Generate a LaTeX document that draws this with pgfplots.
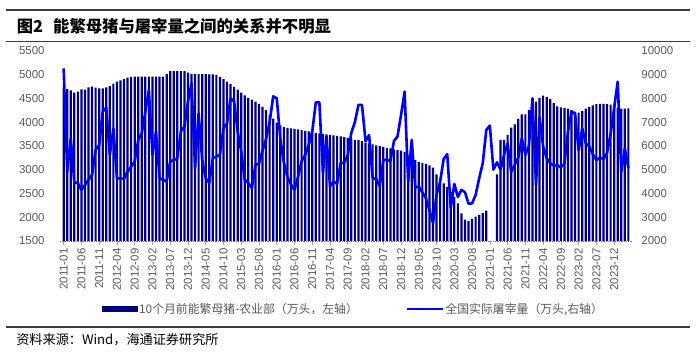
\documentclass[border=0pt]{standalone}
\usepackage{fontspec}
\setmainfont{Liberation Sans}
\newfontfamily\cjk{Noto Sans CJK SC}
\usepackage{pgfplots}
\usepackage{pgfplotstable}
\pgfplotsset{compat=1.18}
\definecolor{barnavy}{RGB}{0,0,128}
\definecolor{lineblue}{RGB}{0,0,255}
\definecolor{txtgray}{RGB}{89,89,89}
\definecolor{rulegray}{RGB}{60,60,60}

\pgfplotstableread{
i v
0 4731
1 4695
2 4668
3 4618
4 4640
5 4689
6 4682
7 4731
8 4745
9 4724
10 4710
11 4710
12 4731
13 4758
14 4807
15 4849
16 4878
17 4905
18 4933
19 4950
20 4954
21 4954
22 4956
23 4956
24 4956
25 4956
26 4956
27 4956
28 4956
29 5010
30 5073
31 5073
32 5073
33 5073
34 5073
35 5040
36 5015
37 5010
38 5010
39 5010
40 5010
41 5005
42 5000
43 4990
44 4950
45 4900
46 4850
47 4800
48 4740
49 4680
50 4620
51 4560
52 4510
53 4470
54 4430
55 4380
56 4320
57 4250
58 4150
59 4070
60 3990
61 3930
62 3895
63 3880
64 3870
65 3858
66 3845
67 3832
68 3815
69 3802
70 3780
71 3765
72 3760
73 3752
74 3742
75 3732
76 3722
77 3712
78 3700
79 3685
80 3670
81 3650
82 3628
83 3620
84 3600
85 3570
86 3554
87 3530
88 3510
89 3495
90 3480
91 3460
92 3445
93 3425
94 3410
95 3400
96 3370
97 3300
98 3240
99 3200
100 3165
101 3140
102 3120
103 3090
104 3040
105 2900
106 2800
107 2710
108 2640
109 2530
110 2420
111 2290
112 2080
113 1950
114 1925
115 1965
116 2013
117 2048
118 2084
119 2140
122 2900
123 3624
124 3624
125 3730
126 3883
127 3954
128 4065
129 4164
130 4164
131 4254
132 4324
133 4430
134 4510
135 4555
136 4530
137 4480
138 4400
139 4330
140 4310
141 4300
142 4280
143 4250
144 4220
145 4200
146 4230
147 4280
148 4320
149 4350
150 4375
151 4385
152 4385
153 4375
154 4365
155 4360
156 4300
157 4280
158 4285
159 4290
}\sows

\pgfplotstableread{
i v
0 9260
1 4916
2 6319
3 4454
4 4440
5 4147
6 4357
7 4570
8 4780
9 5830
10 6040
11 7437
12 7605
13 5620
14 6740
15 4640
16 4620
17 4620
18 4916
19 5126
20 5336
21 6250
22 6530
23 7437
24 8350
25 5620
26 6600
27 4640
28 4570
29 4500
30 5350
31 5400
32 5480
33 6600
34 6810
35 7860
36 8630
37 5060
38 7370
39 5400
40 4640
41 4440
42 5480
43 5550
44 5620
45 6740
46 6950
47 8000
48 7860
49 6600
50 5760
51 4570
52 4440
53 4220
54 5200
55 5250
56 5800
57 6300
58 7000
59 8080
60 8000
61 6300
62 5300
63 4700
64 4380
65 4150
66 4700
67 5350
68 5620
69 6040
70 6600
71 7830
72 7830
73 4850
74 6400
75 4290
76 4500
77 4400
78 5270
79 5300
80 5600
81 6550
82 7000
83 7720
84 7720
85 6200
86 6450
87 4640
88 4620
89 4300
90 5400
91 5420
92 5350
93 6200
94 6400
95 7300
96 8280
97 4500
98 6250
99 4250
100 4290
101 4050
102 3800
103 3300
104 2750
105 3940
106 4500
107 5450
108 5650
109 3400
110 4400
111 3850
112 4150
113 4050
114 3570
115 3580
116 3940
117 4640
118 5270
119 6670
120 6850
121 5000
122 5310
123 5000
124 5620
125 6110
126 4900
127 5200
128 5500
129 6320
130 5620
131 6000
132 8000
133 4360
134 7200
135 5970
136 5480
137 5270
138 5170
139 5180
140 5100
141 5250
142 6600
143 7440
144 7350
145 5800
146 6740
147 6110
148 5970
149 5650
150 5400
151 5500
152 5450
153 5700
154 6500
155 7600
156 8700
157 4900
158 5900
159 5060
}\slaughter

\begin{document}
\begin{tikzpicture}[x=1bp,y=1bp]
\useasboundingbox (-60.1,-112) rectangle (639.9,241);
% rules and title
\draw[rulegray, line width=1.2bp] (-54,231) -- (630,231);
\draw[rulegray, line width=1.2bp] (-54,199.5) -- (630,199.5);
\draw[rulegray, line width=1.4bp] (-54,-86) -- (630,-86);
\node[anchor=west, inner sep=0pt, font=\cjk\bfseries\fontsize{16.4}{18}\selectfont] at (-43.4,214.5) {图2\hspace{10bp}能繁母猪与屠宰量之间的关系并不明显};
\node[anchor=west, inner sep=0pt, font=\cjk\fontsize{13.2}{15}\selectfont] at (-44,-99) {资料来源：Wind，海通证券研究所};

\begin{axis}[
  at={(0,0)}, anchor=south west,
  scale only axis, width=571.8bp, height=190.3bp,
  xmin=-1, xmax=160, ymin=1500, ymax=5500,
  axis x line*=bottom, axis y line*=left,
  x axis line style={densely dotted, color=barnavy!55, line width=0.8bp},
  y axis line style={draw=none},
  ytick={1500,2000,...,5500},
  ytick style={draw=none},
  xtick={0,5,...,155},
  xticklabels={2011-01,2011-06,2011-11,2012-04,2012-09,2013-02,2013-07,2013-12,2014-05,2014-10,2015-03,2015-08,2016-01,2016-06,2016-11,2017-04,2017-09,2018-02,2018-07,2018-12,2019-05,2019-10,2020-03,2020-08,2021-01,2021-06,2021-11,2022-04,2022-09,2023-02,2023-07,2023-12},
  tick align=outside, major tick length=4bp,
  xtick style={color=gray!70, line width=0.6bp},
  x tick label style={rotate=90, anchor=east, font=\fontsize{11.5}{12}\selectfont, text=txtgray},
  y tick label style={font=\fontsize{11.5}{12}\selectfont, text=txtgray, xshift=-8bp},
  /pgf/number format/assume math mode=true,
  /pgf/number format/1000 sep={},
  scaled y ticks=false,
  ybar, bar width=0.62,
]
\addplot[fill=barnavy, draw=none] table[x=i,y=v] {\sows};
\end{axis}

\begin{axis}[
  at={(0,0)}, anchor=south west,
  scale only axis, width=571.8bp, height=190.3bp,
  xmin=-1, xmax=160, ymin=2000, ymax=10000,
  axis x line=none, axis y line*=right,
  y axis line style={draw=none},
  ytick={2000,3000,...,10000},
  ytick style={draw=none},
  y tick label style={font=\fontsize{11.5}{12}\selectfont, text=txtgray, xshift=6bp},
  /pgf/number format/assume math mode=true,
  /pgf/number format/1000 sep={},
  scaled y ticks=false,
  legend columns=2,
  legend style={at={(axis description cs:0.0733,-0.357)}, anchor=west, draw=none, fill=none,
    font=\cjk\fontsize{11.9}{13}\selectfont, text=txtgray, inner sep=0pt,
    nodes={inner sep=1.5bp},
    /tikz/every even column/.append style={column sep=46bp}},
  legend cell align=left,
]
\addlegendimage{legend image code/.code={\fill[barnavy] (0bp,-2.6bp) rectangle (35bp,2.6bp);}}
\addlegendentry{10个月前能繁母猪-农业部（万头，左轴）}
\addplot[lineblue, line width=2.6bp, line join=round, mark=none,
  legend image code/.code={\draw[lineblue, line width=2.6bp] (0bp,0bp) -- (36bp,0bp);}] table[x=i,y=v] {\slaughter};
\addlegendentry{全国实际屠宰量（万头,右轴）}
\end{axis}
\end{tikzpicture}
\end{document}
